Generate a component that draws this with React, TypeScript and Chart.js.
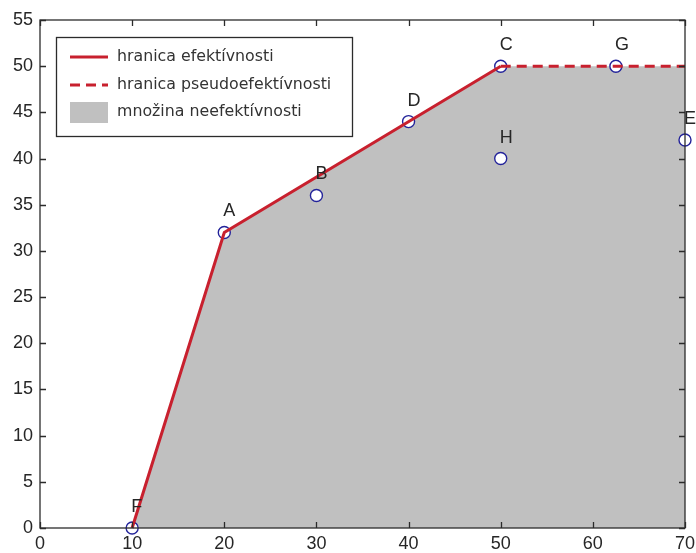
import React, { useEffect, useRef } from 'react';
import { Chart, registerables } from 'chart.js';

Chart.register(...registerables);

// ---- data ----
const pointNames = ['F', 'A', 'B', 'D', 'C', 'G', 'H', 'E'];
const pointX = [10, 20, 30, 40, 50, 62.5, 50, 70];
const pointY = [0, 32, 36, 44, 50, 50, 40, 42];

const frontierX = [10, 20, 50];
const frontierY = [0, 32, 50];

const pseudoX = [50, 70];
const pseudoY = [50, 50];

const regionX = [10, 20, 50, 70];
const regionY = [0, 32, 50, 50];

const legendLabels = ['hranica efektívnosti', 'hranica pseudoefektívnosti', 'množina neefektívnosti'];

const xMin = 0, xMax = 70, xStep = 10;
const yMin = 0, yMax = 55, yStep = 5;

// ---- styles ----
const RED = '#c8202e';
const GRAY = '#c0c0c0';
const AXIS = '#2b2b2b';
const TEXT = '#262626';
const MARKER = '#23239a';
const SANS = 'Arial, "Liberation Sans", sans-serif';

const zip = (xs: number[], ys: number[]) => xs.map((x, i) => ({ x, y: ys[i] }));

const framePlugin = {
  id: 'frame',
  afterDatasetsDraw(chart: any) {
    const ctx = chart.ctx;
    const meta = chart.getDatasetMeta(3);
    ctx.save();
    ctx.fillStyle = TEXT;
    ctx.font = '18px ' + SANS;
    ctx.textAlign = 'left';
    ctx.textBaseline = 'middle';
    meta.data.forEach((el: any, i: number) => {
      ctx.fillText(pointNames[i], el.x - 1, el.y - 21);
    });
    ctx.restore();
  },
  afterDraw(chart: any) {
    const ctx = chart.ctx;
    const a = chart.chartArea;
    const xs = chart.scales.x;
    const ys = chart.scales.y;
    ctx.save();
    ctx.strokeStyle = AXIS;
    ctx.lineWidth = 1.3;
    ctx.strokeRect(a.left, a.top, a.right - a.left, a.bottom - a.top);
    const tl = 6;
    ctx.beginPath();
    xs.ticks.forEach((t: any) => {
      const px = Math.round(xs.getPixelForValue(t.value)) + 0.5;
      ctx.moveTo(px, a.bottom);
      ctx.lineTo(px, a.bottom - tl);
      ctx.moveTo(px, a.top);
      ctx.lineTo(px, a.top + tl);
    });
    ys.ticks.forEach((t: any) => {
      const py = Math.round(ys.getPixelForValue(t.value)) + 0.5;
      ctx.moveTo(a.left, py);
      ctx.lineTo(a.left + tl, py);
      ctx.moveTo(a.right, py);
      ctx.lineTo(a.right - tl, py);
    });
    ctx.stroke();

    // legend
    const lx = 56, ly = 37, lw = 296, lh = 99;
    ctx.fillStyle = '#ffffff';
    ctx.fillRect(lx, ly, lw, lh);
    ctx.strokeStyle = AXIS;
    ctx.lineWidth = 1.3;
    ctx.strokeRect(lx + 0.5, ly + 0.5, lw, lh);
    const rows = [57, 85, 112];
    const sx1 = 70, sx2 = 108;
    ctx.strokeStyle = RED;
    ctx.lineWidth = 3;
    ctx.beginPath();
    ctx.moveTo(sx1, rows[0]);
    ctx.lineTo(sx2, rows[0]);
    ctx.stroke();
    ctx.setLineDash([10, 6]);
    ctx.beginPath();
    ctx.moveTo(sx1, rows[1]);
    ctx.lineTo(sx2, rows[1]);
    ctx.stroke();
    ctx.setLineDash([]);
    ctx.fillStyle = GRAY;
    ctx.fillRect(sx1, rows[2] - 10, sx2 - sx1, 21);
    ctx.fillStyle = '#333333';
    ctx.font = '15.8px "DejaVu Sans", sans-serif';
    ctx.textAlign = 'left';
    ctx.textBaseline = 'middle';
    legendLabels.forEach((s, i) => ctx.fillText(s, 117, rows[i]));
    ctx.restore();
  },
};

export default function App() {
  const ref = useRef<HTMLCanvasElement | null>(null);
  useEffect(() => {
    if (!ref.current) return;
    const tickFont = { family: SANS, size: 18 };
    const chart = new Chart(ref.current, {
      type: 'line',
      data: {
        datasets: [
          {
            label: legendLabels[2],
            data: zip(regionX, regionY),
            fill: 'origin',
            backgroundColor: GRAY,
            borderWidth: 0,
            borderColor: 'rgba(0,0,0,0)',
            pointRadius: 0,
            order: 4,
          },
          {
            label: legendLabels[0],
            data: zip(frontierX, frontierY),
            borderColor: RED,
            borderWidth: 3,
            fill: false,
            pointRadius: 0,
            order: 1,
            clip: false,
          },
          {
            label: legendLabels[1],
            data: zip(pseudoX, pseudoY),
            borderColor: RED,
            borderWidth: 3,
            borderDash: [10, 6],
            fill: false,
            pointRadius: 0,
            order: 1,
            clip: false,
          },
          {
            label: 'body',
            data: zip(pointX, pointY),
            showLine: false,
            pointRadius: 6,
            pointBorderWidth: 1.4,
            pointBorderColor: MARKER,
            pointBackgroundColor: '#ffffff',
            order: 2,
            clip: false,
          },
        ] as any,
      },
      options: {
        animation: false,
        responsive: false,
        devicePixelRatio: 1,
        layout: { padding: { top: 20, right: 11, left: 0, bottom: 0 } },
        plugins: { legend: { display: false }, tooltip: { enabled: false } },
        scales: {
          x: {
            type: 'linear',
            min: xMin,
            max: xMax,
            grid: { display: false, drawTicks: false },
            border: { display: false },
            ticks: { stepSize: xStep, color: TEXT, font: tickFont, padding: 5 },
            afterFit: (s: any) => { s.height = 25; s.paddingRight = 0; s.paddingLeft = 0; },
          },
          y: {
            type: 'linear',
            min: yMin,
            max: yMax,
            grid: { display: false, drawTicks: false },
            border: { display: false },
            ticks: { stepSize: yStep, color: TEXT, font: tickFont, padding: 7 },
            afterFit: (s: any) => { s.width = 40; s.paddingTop = 0; s.paddingBottom = 0; },
          },
        },
      } as any,
      plugins: [framePlugin],
    });
    return () => chart.destroy();
  }, []);
  return (
    <div style={{ position: 'fixed', left: 0, top: 0, width: 696, height: 553, background: '#fff' }}>
      <canvas ref={ref} width={696} height={553} style={{ display: 'block' }} />
    </div>
  );
}
